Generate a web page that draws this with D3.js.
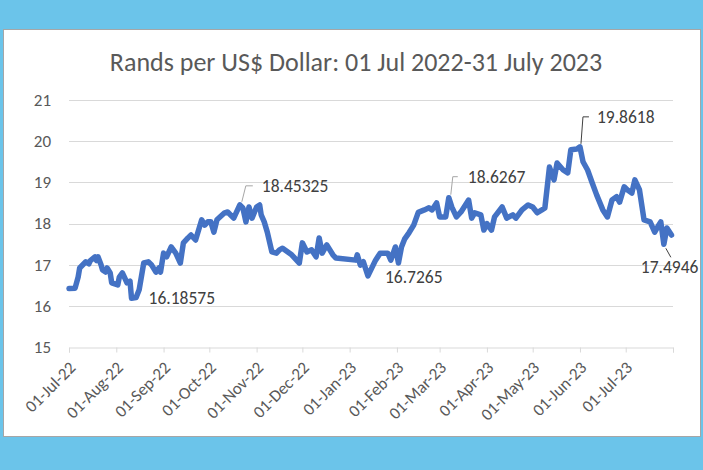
<!DOCTYPE html>
<html>
<head>
<meta charset="utf-8">
<script src="https://cdn.jsdelivr.net/npm/d3@7"></script>
<style>
  html, body { margin: 0; padding: 0; background: #6bc4ea; }
  svg { display: block; }
</style>
</head>
<body>
<div id="chart"></div>
<script>
// Data (ZAR per USD)
const dates = [
  '2022-07-01','2022-07-05','2022-07-07','2022-07-08','2022-07-12','2022-07-14','2022-07-15','2022-07-18',
  '2022-07-19','2022-07-20','2022-07-22','2022-07-23','2022-07-25','2022-07-26','2022-07-28','2022-07-29',
  '2022-08-02','2022-08-03','2022-08-05','2022-08-06','2022-08-08','2022-08-10','2022-08-11','2022-08-14',
  '2022-08-16','2022-08-19','2022-08-22','2022-08-24','2022-08-27','2022-08-29','2022-08-30','2022-09-01',
  '2022-09-03','2022-09-06','2022-09-09','2022-09-12','2022-09-14','2022-09-17','2022-09-19','2022-09-22',
  '2022-09-26','2022-09-28','2022-09-30','2022-10-02','2022-10-04','2022-10-06','2022-10-11','2022-10-13',
  '2022-10-17','2022-10-21','2022-10-23','2022-10-25','2022-10-27','2022-10-29','2022-11-01','2022-11-03',
  '2022-11-04','2022-11-06','2022-11-08','2022-11-11','2022-11-14','2022-11-16','2022-11-18','2022-11-24',
  '2022-11-29','2022-12-01','2022-12-04','2022-12-07','2022-12-10','2022-12-12','2022-12-14','2022-12-17',
  '2022-12-21','2022-12-23','2023-01-05','2023-01-06','2023-01-08','2023-01-10','2023-01-13','2023-01-18',
  '2023-01-21','2023-01-26','2023-01-28','2023-01-31','2023-02-02','2023-02-04','2023-02-06','2023-02-09',
  '2023-02-12','2023-02-15','2023-02-19','2023-02-22','2023-02-24','2023-02-27','2023-03-01','2023-03-05',
  '2023-03-07','2023-03-09','2023-03-12','2023-03-15','2023-03-20','2023-03-22','2023-03-24','2023-03-28',
  '2023-03-30','2023-04-01','2023-04-04','2023-04-06','2023-04-11','2023-04-14','2023-04-18','2023-04-20',
  '2023-04-24','2023-04-28','2023-05-01','2023-05-04','2023-05-07','2023-05-09','2023-05-12','2023-05-15',
  '2023-05-17','2023-05-21','2023-05-24','2023-05-26','2023-05-30','2023-06-01','2023-06-03','2023-06-06',
  '2023-06-09','2023-06-12','2023-06-16','2023-06-19','2023-06-22','2023-06-25','2023-06-27','2023-06-30',
  '2023-07-02','2023-07-05','2023-07-07','2023-07-10','2023-07-13','2023-07-17','2023-07-20','2023-07-22',
  '2023-07-24','2023-07-26','2023-07-28','2023-07-31'
];
const rates = [
  16.42,16.43,16.70,16.92,17.07,17.02,17.10,17.19,
  17.10,17.19,17.00,16.87,16.82,16.92,16.80,16.56,
  16.51,16.70,16.80,16.72,16.56,16.60,16.18575,16.20,
  16.39,17.04,17.07,17.00,16.82,16.92,16.82,17.28,
  17.19,17.43,17.28,17.04,17.53,17.65,17.72,17.60,
  18.09,17.96,18.04,18.04,17.79,18.09,18.26,18.28,
  18.13,18.45325,18.38,18.04,18.40,18.13,18.40,18.45,
  18.21,18.04,17.79,17.31,17.28,17.36,17.40,17.24,
  17.04,17.53,17.31,17.36,17.19,17.65,17.28,17.48,
  17.24,17.16,17.11,17.24,16.99,17.07,16.7265,17.11,
  17.28,17.28,17.11,17.43,17.04,17.43,17.62,17.78,
  17.96,18.27,18.33,18.38,18.33,18.50,18.16,18.16,
  18.6267,18.40,18.16,18.28,18.57,18.13,18.26,18.21,
  17.84,18.00,17.84,18.16,18.40,18.13,18.21,18.13,
  18.33,18.45,18.40,18.26,18.33,18.38,19.37,19.06,
  19.47,19.30,19.23,19.79,19.81,19.8618,19.50,19.30,
  18.99,18.69,18.33,18.16,18.57,18.65,18.52,18.89,
  18.82,18.74,19.06,18.82,18.09,18.04,17.79,17.92,
  18.04,17.4946,17.89,17.72
];
const yTicks = [15, 16, 17, 18, 19, 20, 21];
const monthTicks = ['2022-07-01','2022-08-01','2022-09-01','2022-10-01','2022-11-01','2022-12-01',
  '2023-01-01','2023-02-01','2023-03-01','2023-04-01','2023-05-01','2023-06-01','2023-07-01','2023-08-01'];
const titleText = 'Rands per US$ Dollar: 01 Jul 2022-31 July 2023';
// points that carry a data label
const labelled = ['2022-08-11','2022-10-21','2023-01-13','2023-03-07','2023-06-01','2023-07-26'];

const width = 703, height = 470;
const parse = d3.timeParse('%Y-%m-%d');
const fmtTick = d3.timeFormat('%d-%b-%y');
const data = dates.map((d, i) => ({ date: parse(d), value: rates[i], key: d }));

const svg = d3.select('#chart').append('svg')
  .attr('width', width).attr('height', height);

// white chart panel between the blue bands
svg.append('rect')
  .attr('x', 3.5).attr('y', 29.5)
  .attr('width', 697).attr('height', 407)
  .attr('fill', '#fff').attr('stroke', '#a6a6a6');

const x = d3.scaleTime()
  .domain([parse(monthTicks[0]), parse(monthTicks[monthTicks.length - 1])])
  .range([69, 673]);
const y = d3.scaleLinear().domain([15, 21]).range([347, 100]);

const font = 'Calibri, Carlito, Lato, sans-serif';

// title
svg.append('text')
  .attr('x', 356).attr('y', 71)
  .attr('text-anchor', 'middle')
  .attr('font-family', font)
  .attr('font-size', 26)
  .attr('fill', '#595959')
  .text(titleText);

// gridlines
svg.append('g').selectAll('line')
  .data(yTicks.filter(t => t > 15))
  .join('line')
  .attr('x1', 69).attr('x2', 673)
  .attr('y1', d => Math.round(y(d)) + 0.5).attr('y2', d => Math.round(y(d)) + 0.5)
  .attr('stroke', '#d9d9d9');

// y axis labels
const yAxis = svg.append('g')
  .attr('transform', 'translate(69,0)')
  .call(d3.axisLeft(y).tickValues(yTicks).tickFormat(d3.format('d')).tickSize(0).tickPadding(18));
yAxis.select('.domain').remove();
yAxis.selectAll('text')
  .attr('font-family', font).attr('font-size', 17).attr('fill', '#595959');

// x axis
const xAxis = svg.append('g')
  .attr('transform', 'translate(0,347.5)')
  .call(d3.axisBottom(x).tickValues(monthTicks.map(parse)).tickSize(5)
    .tickFormat((d, i) => i === monthTicks.length - 1 ? '' : fmtTick(d)));
xAxis.select('.domain').attr('stroke', '#d9d9d9');
xAxis.selectAll('.tick line').attr('stroke', '#d9d9d9');
xAxis.selectAll('text')
  .attr('font-family', font).attr('font-size', 17).attr('fill', '#595959')
  .attr('text-anchor', 'end')
  .attr('transform', 'translate(3,17) rotate(-45)')
  .attr('dy', '0.35em').attr('y', 0);

// line
const line = d3.line().x(d => x(d.date)).y(d => y(d.value));
svg.append('path')
  .datum(data)
  .attr('d', line)
  .attr('fill', 'none')
  .attr('stroke', '#4472c4')
  .attr('stroke-width', 5.5)
  .attr('stroke-linejoin', 'round')
  .attr('stroke-linecap', 'round');

// data labels
const labelStyle = {
  '2022-08-11': { dx: 17, dy: 0, leader: null },
  '2022-10-21': { dx: 22, dy: -19, leader: [[2, -3], [6, -19], [13, -19]], color: '#a6a6a6' },
  '2023-01-13': { dx: 17, dy: 1, leader: null },
  '2023-03-07': { dx: 19, dy: -21, leader: [[2, -3], [4, -21], [9, -21]], color: '#a6a6a6' },
  '2023-06-01': { dx: 17, dy: -30, leader: [[1, -3], [3, -30], [9, -30]], color: '#404040' },
  '2023-07-26': { dx: -23, dy: 23, leader: [[2, 4], [7, 13]], color: '#404040' }
};
const labels = svg.append('g');
data.filter(d => labelled.includes(d.key)).forEach(d => {
  const s = labelStyle[d.key];
  const px = x(d.date), py = y(d.value);
  if (s.leader) {
    labels.append('path')
      .attr('d', d3.line()(s.leader.map(p => [px + p[0], py + p[1]])))
      .attr('fill', 'none').attr('stroke', s.color).attr('stroke-width', 1);
  }
  labels.append('text')
    .attr('x', px + s.dx).attr('y', py + s.dy)
    .attr('dy', '0.35em')
    .attr('font-family', font).attr('font-size', 17.5)
    .attr('fill', '#404040')
    .text(d.value);
});
</script>
</body>
</html>
